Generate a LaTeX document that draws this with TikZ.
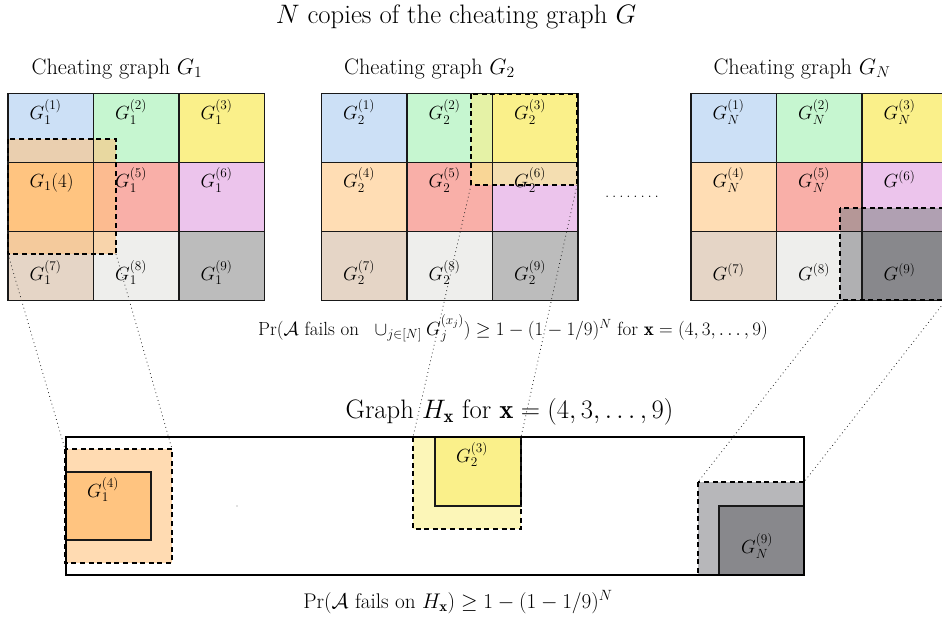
\RequirePackage{fix-cm}
\documentclass[tikz,border=0pt]{standalone}
\usepackage{amsmath}
\usepackage{fontspec}
\usetikzlibrary{calc}
\definecolor{c1}{HTML}{CCE0F6}
\definecolor{c2}{HTML}{C6F6D0}
\definecolor{c3}{HTML}{FAF08A}
\definecolor{c4}{HTML}{FFDDB4}
\definecolor{c4d}{HTML}{FFC480}
\definecolor{c5}{HTML}{F9AFA8}
\definecolor{c6}{HTML}{ECC4EC}
\definecolor{c7}{HTML}{E5D5C6}
\definecolor{c8}{HTML}{EEEEEC}
\definecolor{c9}{HTML}{BCBCBC}
\definecolor{c9d}{HTML}{88888C}
\tikzset{
  cellbox/.style={anchor=north west, minimum width=85.5pt, minimum height=69pt, inner sep=0pt, outer sep=0pt, draw=none},
  winbox/.style={anchor=north west, inner sep=0pt, outer sep=0pt, draw=none, fill opacity=0.6},
  gridline/.style={line width=1.2pt, draw=black!90},
  winline/.style={line width=1.3pt, draw=black, dash pattern=on 5pt off 3.6pt},
  conn/.style={line width=0.8pt, draw=black!85, dash pattern=on 0.8pt off 3.2pt},
  celllabel/.style={anchor=base west, inner sep=0pt, font=\fontsize{19}{22}\selectfont},
  gtitle/.style={anchor=base, inner sep=0pt, font=\fontsize{22.3}{26}\selectfont},
}
\begin{document}
\begin{tikzpicture}[x=1pt,y=-1pt]
\useasboundingbox (0,0) rectangle (942,622);
\clip (0,0) rectangle (942,622);
% ---------- cell fills ----------
\foreach \i/\col in {1/c1,2/c2,3/c3,4/c4d,5/c5,6/c6,7/c7,8/c8,9/c9}{
  \pgfmathsetmacro\cx{8+85.5*mod(\i-1,3)}
  \pgfmathsetmacro\cy{93.5+69*int((\i-1)/3)}
  \node[cellbox,fill=\col] (a\i) at (\cx,\cy) {};
}
\foreach \i/\col in {1/c1,2/c2,3/c3,4/c4,5/c5,6/c6,7/c7,8/c8,9/c9}{
  \pgfmathsetmacro\cx{321.5+85.5*mod(\i-1,3)}
  \pgfmathsetmacro\cy{93.5+69*int((\i-1)/3)}
  \node[cellbox,fill=\col] (b\i) at (\cx,\cy) {};
}
\foreach \i/\col in {1/c1,2/c2,3/c3,4/c4,5/c5,6/c6,7/c7,8/c8,9/c9d}{
  \pgfmathsetmacro\cx{691+85.5*mod(\i-1,3)}
  \pgfmathsetmacro\cy{93.5+69*int((\i-1)/3)}
  \node[cellbox,fill=\col] (n\i) at (\cx,\cy) {};
}
% ---------- overlays (windows) ----------
\node[winbox,fill=c4d,minimum width=108pt,minimum height=115pt] (w1) at (8,139) {};
\node[winbox,fill=c3,minimum width=106pt,minimum height=91pt] (w2) at (471,94) {};
\node[winbox,fill=c9d,minimum width=106pt,minimum height=92pt] (wn) at (840,208) {};
% ---------- grid lines ----------
\foreach \p in {a,b,n}{
  \foreach \i in {1,...,9}{
    \draw[gridline] (\p\i.north west) rectangle (\p\i.south east);
  }
}
% ---------- cell labels ----------
\foreach \p/\s in {a/1,b/2}{
  \foreach \i in {1,2,3}{\node[celllabel] (\p l\i) at ($(\p\i.north west)+(21.5,26)$) {$G_{\s}^{(\i)}$};}
  \foreach \i in {7,8,9}{\node[celllabel] (\p l\i) at ($(\p\i.north west)+(21.5,48.5)$) {$G_{\s}^{(\i)}$};}
}
\node[celllabel] (al4) at ($(a4.north west)+(21.5,25)$) {$G_1(4)$};
\foreach \i in {5,6}{\node[celllabel] (al\i) at ($(a\i.north west)+(21.5,25)$) {$G_1^{(\i)}$};}
\foreach \i in {4,5,6}{\node[celllabel] (bl\i) at ($(b\i.north west)+(21.5,25)$) {$G_2^{(\i)}$};}
\foreach \i in {1,2,3}{\node[celllabel] (nl\i) at ($(n\i.north west)+(21.5,26)$) {$G_N^{(\i)}$};}
\foreach \i in {4,5}{\node[celllabel] (nl\i) at ($(n\i.north west)+(21.5,25)$) {$G_N^{(\i)}$};}
\node[celllabel] (nl6) at ($(n6.north west)+(21.5,25)$) {$G^{(6)}$};
\foreach \i in {7,8,9}{\node[celllabel] (nl\i) at ($(n\i.north west)+(21.5,48.5)$) {$G^{(\i)}$};}
% ---------- window borders ----------
\draw[winline] (w1.north west) rectangle (w1.south east);
\draw[winline] (w2.north west) rectangle (w2.south east);
\draw[winline] (wn.north west) rectangle (wn.south east);
% ---------- titles ----------
\node[anchor=base,inner sep=0pt,font=\fontsize{26.7}{31}\selectfont] (title) at (456,23) {$N$ copies of the cheating graph $G$};
\node[gtitle] (t1) at (117,74) {Cheating graph $G_1$};
\node[gtitle] (t2) at (429.5,74) {Cheating graph $G_2$};
\node[gtitle] (tn) at (802,74) {Cheating graph $G_N$};
\node[anchor=base,inner sep=0pt,font=\fontsize{17}{20}\selectfont] (dots) at (632,197) {.\,.\,.\,.\,.\,.\,.\,.};
\node[anchor=base,inner sep=0pt,font=\fontsize{19}{22}\selectfont] (prtop) at (513,335)
  {$\Pr(\mathcal{A}\text{ fails on }\ \cup_{j\in[N]}G_j^{(x_j)})\geq 1-(1-1/9)^N$ for $\mathbf{x}=(4,3,\ldots,9)$};
\node[anchor=base,inner sep=0pt,font=\fontsize{26.7}{31}\selectfont] (htitle) at (509.5,418) {Graph $H_{\mathbf{x}}$ for $\mathbf{x}=(4,3,\ldots,9)$};
% ---------- graph H ----------
\node[anchor=north west,inner sep=0pt,outer sep=0pt,minimum width=738pt,minimum height=138pt,fill=white] (H) at (66,437) {};
\node[winbox,fill=c4d,minimum width=107pt,minimum height=114pt] (v1) at (65,449) {};
\node[anchor=north west,inner sep=0pt,outer sep=0pt,minimum width=85pt,minimum height=68pt,fill=c4d,draw=black!90,line width=1.2pt] (h1) at (66,472) {};
\node[winbox,fill=c3,minimum width=108pt,minimum height=92pt] (v2) at (413,437) {};
\node[anchor=north west,inner sep=0pt,outer sep=0pt,minimum width=86pt,minimum height=69pt,fill=c3,draw=black!90,line width=1.2pt] (h2) at (435,437) {};
\node[winbox,fill=c9d,minimum width=106pt,minimum height=93pt] (vn) at (698,482) {};
\node[anchor=north west,inner sep=0pt,outer sep=0pt,minimum width=85pt,minimum height=69pt,fill=c9d,draw=black!90,line width=1.2pt] (hn) at (719,506) {};
\draw[winline] (v1.north west) rectangle (v1.south east);
\draw[winline] (v2.north west) rectangle (v2.south east);
\draw[winline] (vn.north west) rectangle (vn.south east);
\node[celllabel] (hl1) at ($(h1.north west)+(21,25)$) {$G_1^{(4)}$};
\node[celllabel] (hl2) at ($(h2.north west)+(21,25)$) {$G_2^{(3)}$};
\node[celllabel] (hln) at ($(hn.north west)+(22,47)$) {$G_N^{(9)}$};
\draw[line width=1.7pt] (H.north west) rectangle (H.south east);
\node[circle,fill=black!50,inner sep=0pt,minimum size=1.2pt] (spot) at (237,506) {};
\node[anchor=base,inner sep=0pt,font=\fontsize{21.2}{25}\selectfont] (prbot) at (458,608)
  {$\Pr(\mathcal{A}\text{ fails on }H_{\mathbf{x}})\geq 1-(1-1/9)^N$};
% ---------- dotted connectors ----------
\draw[conn] (w1.south west) -- (v1.north west);
\draw[conn] (w1.south east) -- (v1.north east);
\draw[conn] (w2.south west) -- (v2.north west);
\draw[conn] (w2.south east) -- (v2.north east);
\draw[conn] (wn.south west) -- (vn.north west);
\draw[conn] (wn.south east) -- (vn.north east);
\end{tikzpicture}
\end{document}
